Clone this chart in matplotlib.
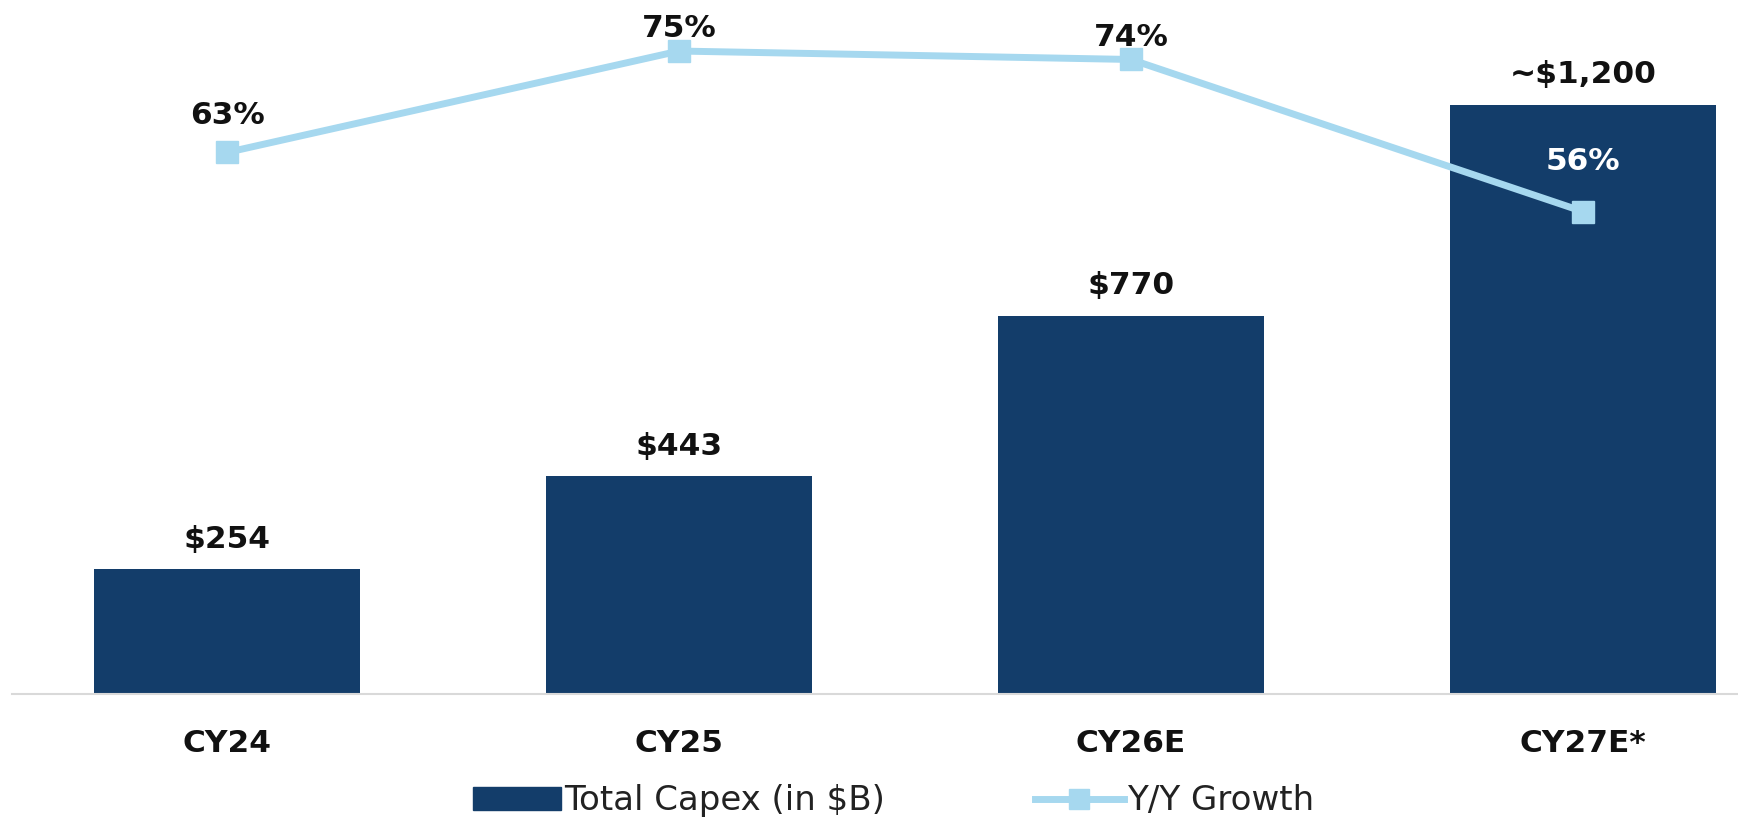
import matplotlib
matplotlib.use("Agg")
import matplotlib.pyplot as plt
from matplotlib.patches import Patch
from matplotlib.lines import Line2D

# data
years = ["CY24", "CY25", "CY26E", "CY27E*"]
capex = [254, 443, 770, 1200]
capex_labels = ["$254", "$443", "$770", "~$1,200"]
growth = [63, 75, 74, 56]
growth_labels = ["63%", "75%", "74%", "56%"]

bar_col = "#133d6a"
line_col = "#a6d8ef"

plt.rcParams['font.family'] = ['DejaVu Sans']

fig = plt.figure(figsize=(17.38, 8.19), dpi=100)
ax = fig.add_axes([12 / 1738, 125 / 819, 1 - 12 / 1738, 694 / 819])
x = list(range(len(years)))

ax.bar(x, capex, width=0.59, color=bar_col, zorder=2)
ax.set_xlim(-0.476, 3.343)
ax.set_ylim(0, 1413)

for xi, v, lab in zip(x, capex, capex_labels):
    ax.annotate(lab, (xi, v), xytext=(0, 21.6), textcoords="offset points",
                ha="center", va="center", fontsize=22.5, fontweight="bold", color="#111111")

ax2 = ax.twinx()
ax2.set_ylim(-1.1, 81.04)
ax2.plot(x, growth, color=line_col, lw=5, marker="s", markersize=16, zorder=3)

# offsets of the % labels (points above the marker)
offs = [26.6, 16.5, 16, 36]
cols = ["#111111", "#111111", "#111111", "white"]
for xi, v, lab, o, c in zip(x, growth, growth_labels, offs, cols):
    ax2.annotate(lab, (xi, v), xytext=(0, o), textcoords="offset points",
                 ha="center", va="center", fontsize=22.5, fontweight="bold", color=c)

for a in (ax, ax2):
    for s in ("top", "right", "left"):
        a.spines[s].set_visible(False)
    a.set_yticks([])
ax2.spines["bottom"].set_visible(False)
ax.spines["bottom"].set_color("#d9d9d9")
ax.spines["bottom"].set_linewidth(1.5)

ax.set_xticks(x)
ax.set_xticklabels(years, fontsize=22.5, fontweight="bold", color="#111111")
ax.tick_params(axis="x", length=0, pad=25)

handles = [Patch(color=bar_col, label="Total Capex (in $B)"),
           Line2D([], [], color=line_col, lw=5, marker="s", markersize=14, label="Y/Y Growth")]
fig.legend(handles=handles, loc="center", bbox_to_anchor=(0.514, 0.022), ncol=2,
           frameon=False, fontsize=24.5, handlelength=2.6, handletextpad=0.1,
           columnspacing=4.4, labelcolor="#222222")

fig.savefig("out.png", dpi=100)
